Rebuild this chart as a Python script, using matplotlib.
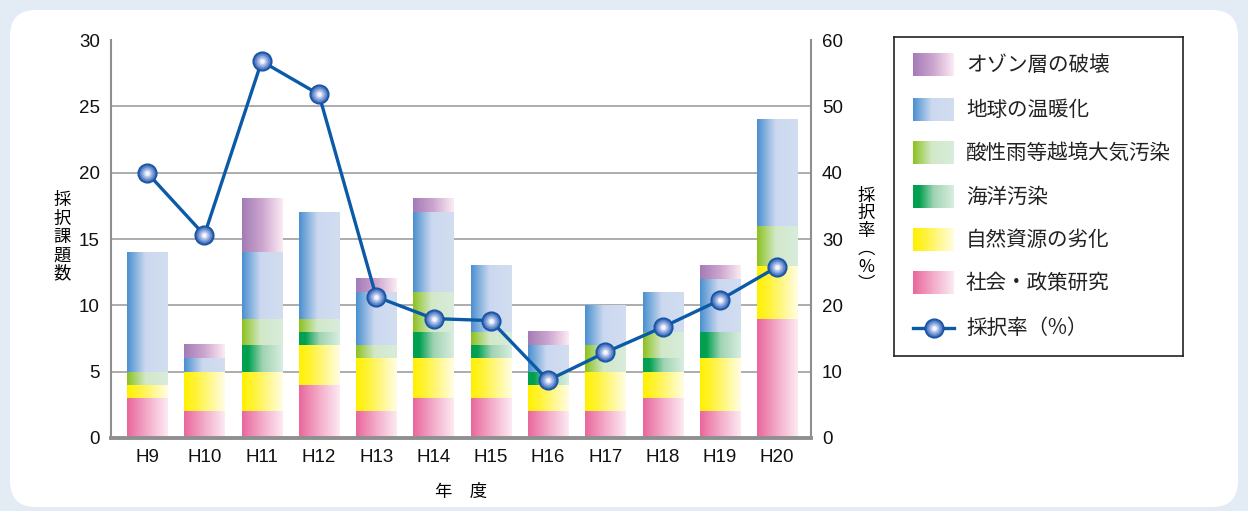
import numpy as np
import matplotlib.pyplot as plt
from matplotlib.colors import LinearSegmentedColormap
from matplotlib.patches import FancyBboxPatch

plt.rcParams['font.family'] = ['Liberation Sans', 'Noto Sans CJK JP', 'DejaVu Sans']

# data
years = ['H9', 'H10', 'H11', 'H12', 'H13', 'H14', 'H15', 'H16', 'H17', 'H18', 'H19', 'H20']
social = [3, 2, 2, 4, 2, 3, 3, 2, 2, 3, 2, 9]        # 社会・政策研究
resources = [1, 3, 3, 3, 4, 3, 3, 2, 3, 2, 4, 4]     # 自然資源の劣化
marine = [0, 0, 2, 1, 0, 2, 1, 1, 0, 1, 2, 0]        # 海洋汚染
acid = [1, 0, 2, 1, 1, 3, 1, 0, 2, 2, 0, 3]          # 酸性雨等越境大気汚染
warming = [9, 1, 5, 8, 4, 6, 5, 2, 3, 3, 4, 8]       # 地球の温暖化
ozone = [0, 1, 4, 0, 1, 1, 0, 1, 0, 0, 1, 0]         # オゾン層の破壊
rate = [40.0, 30.6, 56.8, 51.8, 21.3, 18.0, 17.7, 8.7, 12.9, 16.7, 20.8, 25.8]  # 採択率（%）

series_names = ['社会・政策研究', '自然資源の劣化', '海洋汚染', '酸性雨等越境大気汚染',
                '地球の温暖化', 'オゾン層の破壊']
series_vals = [social, resources, marine, acid, warming, ozone]

# horizontal gradients (left -> right)
gradients = [
    [(0, '#e9679c'), (0.45, '#f2a6c5'), (1, '#fdeaf2')],
    [(0, '#fff000'), (0.3, '#fff33a'), (1, '#fffde4')],
    [(0, '#00a050'), (0.15, '#00a050'), (0.5, '#9fd3b2'), (1, '#d8eee0')],
    [(0, '#8cc21f'), (0.45, '#d2e8c8'), (1, '#d8ecdc')],
    [(0, '#4a8fd0'), (0.45, '#cbd8ef'), (1, '#d2ddf0')],
    [(0, '#a37cb7'), (0.5, '#cda6cf'), (1, '#fcebf3')],
]
cmaps = [LinearSegmentedColormap.from_list('g%d' % i, g) for i, g in enumerate(gradients)]
grad_img = np.linspace(0, 1, 128).reshape(1, -1)

line_color = '#0b5aa8'
# layered circles to fake the shaded marker
marker_layers = [(13.5, '#2f62b2'), (11, '#5f86c9'), (8.5, '#8ea8dc'), (6, '#bccbec'), (3.5, '#f2f5fc')]


def draw_markers(a, xs, ys, z=6):
    a.plot(xs, ys, 'o', ms=marker_layers[0][0], mfc=marker_layers[0][1], mec='#1554a4',
           mew=1.0, zorder=z)
    for ms, c in marker_layers[1:]:
        a.plot(xs, ys, 'o', ms=ms, mfc=c, mec='none', zorder=z)


W, H = 1248, 511
fig = plt.figure(figsize=(W / 100, H / 100), dpi=100)
fig.patch.set_facecolor('#e3ebf4')

# rounded white panel
bg = fig.add_axes([0, 0, 1, 1], zorder=-10)
bg.set_xlim(0, W)
bg.set_ylim(H, 0)
bg.axis('off')
bg.add_patch(FancyBboxPatch((10, 10), W - 20, H - 14, boxstyle='round,pad=0,rounding_size=26',
                            facecolor='white', edgecolor='none'))

ax = fig.add_axes([111 / W, 1 - 438 / H, 700 / W, 398 / H])
ax.set_facecolor('none')
x = np.arange(len(years))
bottom = np.zeros(len(years))
for vals, cmap in zip(series_vals, cmaps):
    bars = ax.bar(x, vals, width=0.7, bottom=bottom, color='none', edgecolor='none', zorder=2)
    for b in bars:
        if b.get_height() <= 0:
            continue
        x0, y0 = b.get_x(), b.get_y()
        ax.imshow(grad_img, cmap=cmap, extent=[x0, x0 + b.get_width(), y0, y0 + b.get_height()],
                  aspect='auto', interpolation='bilinear', zorder=2)
    bottom += np.array(vals)

ax.set_xlim(-0.63, len(years) - 1 + 0.59)
ax.set_ylim(0, 30)
ax.set_yticks(range(0, 31, 5))
ax.set_xticks(x)
ax.set_xticklabels(years)
for t in range(5, 30, 5):
    ax.axhline(t, color='#a6a6a6', lw=1.3, zorder=1)
ax.tick_params(length=0, labelsize=13.5, colors='#111111')
ax.tick_params(axis='y', pad=8)
ax.tick_params(axis='x', pad=8)
ax.spines['top'].set_visible(False)
for s in ['left', 'right']:
    ax.spines[s].set_color('#8f8f8f')
    ax.spines[s].set_linewidth(1.5)
ax.spines['bottom'].set_color('#8f8f8f')
ax.spines['bottom'].set_linewidth(2.8)
ax.set_xlabel('年　度', fontsize=12.5, labelpad=12, family=['Noto Sans CJK JP'])

ax2 = ax.twinx()
ax2.set_ylim(0, 60)
ax2.set_yticks(range(0, 61, 10))
ax2.tick_params(length=0, labelsize=13.5, colors='#111111', pad=8)
for s in ax2.spines.values():
    s.set_visible(False)

ax2.plot(x, rate, color=line_color, lw=2.4, zorder=5)
draw_markers(ax2, x, rate)

# vertical axis labels
fig.text(62 / W, 1 - 237 / H, '採\n択\n課\n題\n数', ha='center', va='center', fontsize=12.5,
         linespacing=1.02, family=['Noto Sans CJK JP'])
fig.text(866 / W, 1 - 240 / H, '採\n択\n率\n︵\n%\n︶', ha='center', va='center', fontsize=12.5,
         linespacing=0.98, family=['Noto Sans CJK JP', 'DejaVu Sans'])

# legend box
lx0, ly0, lx1, ly1 = 894, 37, 1183, 356
lg = fig.add_axes([lx0 / W, 1 - ly1 / H, (lx1 - lx0) / W, (ly1 - ly0) / H])
lg.set_xticks([])
lg.set_yticks([])
for s in lg.spines.values():
    s.set_color('#222222')
    s.set_linewidth(1.2)
rows_y = [28, 73, 116, 160, 203, 246]
for i, (name, cmap) in enumerate(zip(series_names[::-1], cmaps[::-1])):
    cy = rows_y[i]
    lg.imshow(grad_img, cmap=cmap, extent=[19, 60, cy + 11.5, cy - 11.5], aspect='auto',
              interpolation='bilinear')
    lg.text(72, cy, name, va='center', ha='left', fontsize=14.8, color='#222222',
            family=['Noto Sans CJK JP'])
cy = 291
lg.plot([19, 60], [cy, cy], color=line_color, lw=2.4)
draw_markers(lg, [39.5], [cy])
lg.text(72, cy, '採択率（%）', va='center', ha='left', fontsize=14.8, color='#222222',
        family=['Noto Sans CJK JP'])
lg.set_xlim(0, lx1 - lx0)
lg.set_ylim(ly1 - ly0, 0)

fig.savefig('out.png', dpi=100)
